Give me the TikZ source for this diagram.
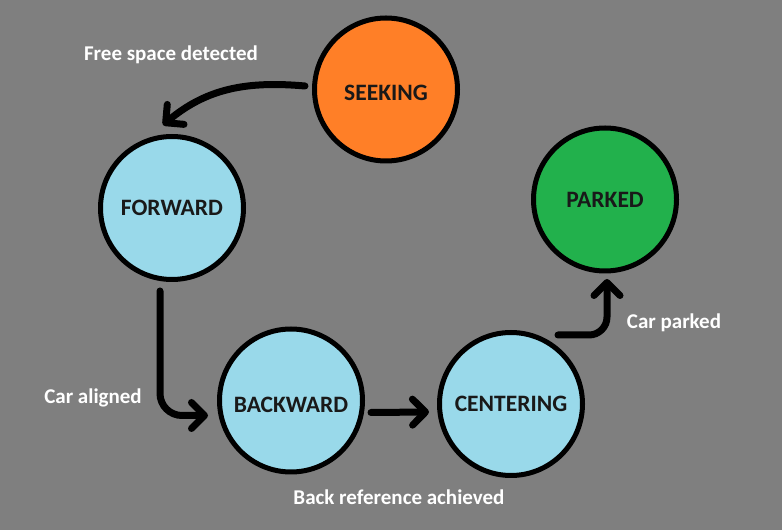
\documentclass[tikz,border=0pt]{standalone}
\usepackage{fontspec}
\setmainfont{Carlito}
\usepackage{xcolor}
\definecolor{bggray}{RGB}{127,127,127}
\definecolor{seekorange}{RGB}{255,127,39}
\definecolor{parkgreen}{RGB}{34,177,76}
\definecolor{lightblue}{RGB}{153,217,234}
\usepackage{tikz}
\usetikzlibrary{arrows.meta}

\begin{document}
\begin{tikzpicture}[x=1pt,y=1pt,
    state/.style={circle,draw=black,line width=5pt,minimum size=143pt,inner sep=0pt,
      font=\fontsize{23.5}{27}\selectfont\bfseries,text=black!90},
    trans/.style={line width=7pt,line cap=round,
      -{Straight Barb[length=13pt,width=26pt,round]}},
    lbl/.style={text=white,font=\fontsize{21}{25}\selectfont\bfseries}]
        % Background
        \fill[bggray] (0,0) rectangle (782,530);
        \useasboundingbox (0,0) rectangle (782,530);
        % States
        \node[state,fill=seekorange,text height=22pt] (seek) at (386,440.5) {SEEKING};
        \node[state,fill=lightblue] (fwd) at (172,322) {FORWARD};
        \node[state,fill=lightblue,text height=24pt] (bwd) at (291,129.5) {BACKWARD};
        \node[state,fill=lightblue] (cen) at (511,126) {CENTERING};
        \node[state,fill=parkgreen] (park) at (605,330.5) {PARKED};
        % Transitions
        \draw[trans] ([xshift=-7pt,yshift=3.5pt]seek.west)
            to[out=175,in=40] ([xshift=-9pt,yshift=9pt]fwd.north);
        \draw[trans,rounded corners=22pt] ([xshift=-12pt,yshift=-9pt]fwd.south)
            |- ([xshift=-9pt,yshift=-15pt]bwd.west);
        \draw[trans] ([xshift=6pt,yshift=-12pt]bwd.east) -- ([xshift=-8pt,yshift=-8pt]cen.west);
        \draw[trans,rounded corners=18pt] ([xshift=47pt,yshift=-5pt]cen.north)
            -| ([xshift=2pt,yshift=-5.5pt]park.south);
        % Labels
        \node[lbl] (lfree) at (171,475) {Free space detected};
        \node[lbl] (laligned) at (93,132) {Car aligned};
        \node[lbl] (lback) at (399,33) {Back reference achieved};
        \node[lbl] (lparked) at (674,207) {Car parked};
    \end{tikzpicture}
\end{document}
